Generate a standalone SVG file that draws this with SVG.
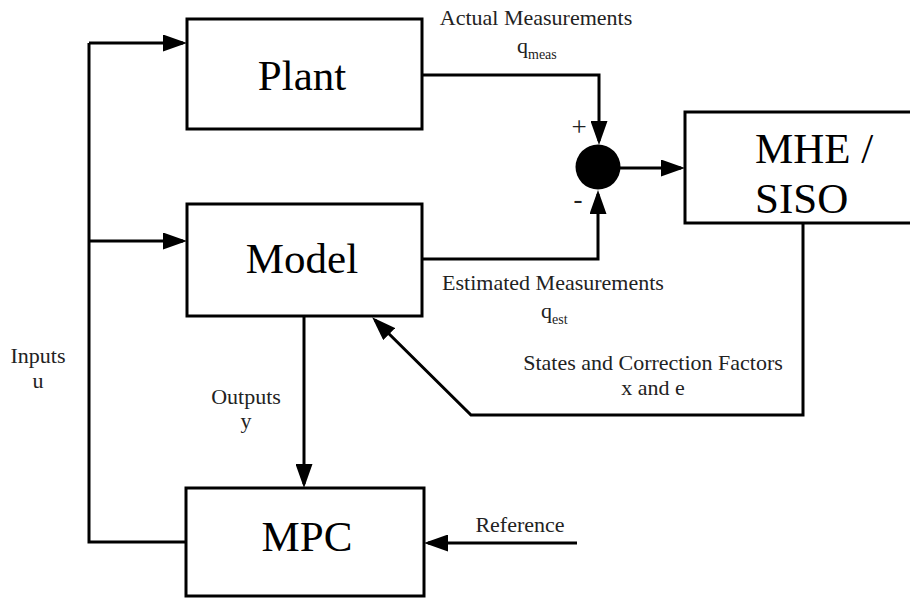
<svg xmlns="http://www.w3.org/2000/svg" width="910" height="598" viewBox="0 0 910 598">
<style>
.box{fill:#fff;stroke:#000;stroke-width:3}
text{font-family:'Liberation Serif','DejaVu Serif','Times New Roman',serif}
.big{font-size:43px;fill:#000}
.sm{font-size:22px;fill:#222}
.pm{font-size:27px;fill:#222}
.sub{font-size:14px;fill:#222}
.ln{fill:none;stroke:#000;stroke-width:3;marker-end:url(#ah)}
.pl{fill:none;stroke:#000;stroke-width:3}
</style>
<defs>
<marker id="ah" markerUnits="userSpaceOnUse" markerWidth="24" markerHeight="17" refX="20" refY="8.5" orient="auto">
<path d="M0,0 L24,8.5 L0,17 z" fill="#000"/>
</marker>
</defs>
<rect width="910" height="598" fill="#fff"/>
<g id="connectors">
<path class="pl" d="M186,542 H89 V43"/>
<path class="ln" d="M89,43 H183"/>
<path class="ln" d="M89,241 H183"/>
<path class="ln" d="M422,75 H599 V141"/>
<path class="ln" d="M422,259 H598 V194"/>
<path class="ln" d="M620,168 H681"/>
<path class="ln" d="M803,223 V415 H471 L375,320"/>
<path class="ln" d="M304,316 V484"/>
<path class="ln" d="M577,543 H428"/>
</g>
<g id="plant">
<rect class="box" x="187" y="19" width="235" height="110"/>
<text class="big" x="302" y="90" text-anchor="middle">Plant</text>
</g>
<g id="model">
<rect class="box" x="187" y="204" width="235" height="112"/>
<text class="big" x="302" y="273" text-anchor="middle">Model</text>
</g>
<g id="mhe">
<rect class="box" x="685" y="112" width="240" height="111"/>
<text class="big" x="755" y="163">MHE /</text>
<text class="big" x="755" y="213">SISO</text>
</g>
<g id="mpc">
<rect class="box" x="186" y="488" width="238" height="108"/>
<text class="big" x="307" y="551" text-anchor="middle">MPC</text>
</g>
<g id="sum">
<circle cx="598" cy="167" r="22.5" fill="#000"/>
<text class="pm" x="579" y="136" text-anchor="middle">+</text>
<text class="pm" x="578" y="208" text-anchor="middle">-</text>
</g>
<g id="labels">
<text class="sm" x="536" y="25" text-anchor="middle">Actual Measurements</text>
<text class="sm" x="517" y="53">q<tspan class="sub" dy="6">meas</tspan></text>
<text class="sm" x="553" y="290" text-anchor="middle">Estimated Measurements</text>
<text class="sm" x="541" y="318">q<tspan class="sub" dy="6">est</tspan></text>
<text class="sm" x="653" y="370" text-anchor="middle">States and Correction Factors</text>
<text class="sm" x="653" y="395" text-anchor="middle">x and e</text>
<text class="sm" x="38" y="363" text-anchor="middle">Inputs</text>
<text class="sm" x="38" y="388" text-anchor="middle">u</text>
<text class="sm" x="246" y="404" text-anchor="middle">Outputs</text>
<text class="sm" x="246" y="428" text-anchor="middle">y</text>
<text class="sm" x="520" y="532" text-anchor="middle">Reference</text>
</g>
</svg>
